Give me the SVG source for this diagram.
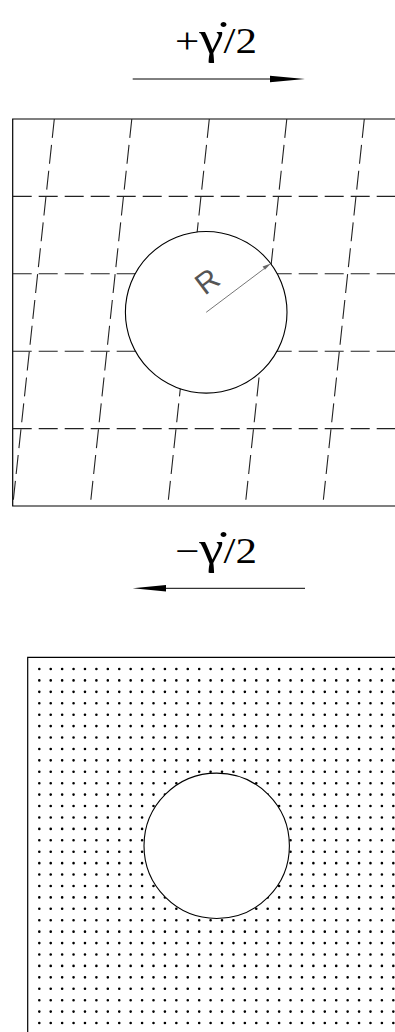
<svg xmlns="http://www.w3.org/2000/svg" width="395" height="1032" viewBox="0 0 395 1032">
<style>
.frame{fill:none;stroke:#000;stroke-width:1.2}
.grid{fill:none;stroke:#222;stroke-width:1.1;stroke-dasharray:19 7}
.circ{fill:#fff;stroke:#000;stroke-width:1.1}
.lbl{font-family:"Liberation Serif","Times New Roman",serif;font-size:36px;fill:#000}
.g{font-size:46px}
.dots{fill:none;stroke:#000;stroke-width:2.6;stroke-linecap:round;stroke-dasharray:0 11.42}
</style>
<rect width="395" height="1032" fill="#fff"/>
<g id="top-label">
<text class="lbl" x="175" y="53.3" textLength="82" lengthAdjust="spacingAndGlyphs">+<tspan class="g">γ̇</tspan>/2</text>
</g>
<g id="bottom-label">
<text class="lbl" x="175" y="563.3" textLength="82" lengthAdjust="spacingAndGlyphs">−<tspan class="g">γ̇</tspan>/2</text>
</g>
<g id="top-panel">
<path class="frame" d="M395 119H12.7V506H395"/>
<g class="grid">
<path d="M12.7 196.4H395M12.7 273.8H395M12.7 351.2H395M12.7 428.6H395"/>
<path d="M54.3 119L12.7 506M131.8 119L90.2 506M209.3 119L167.7 506M286.8 119L245.2 506M364.3 119L322.7 506"/>
</g>
<circle class="circ" cx="206.2" cy="312.3" r="80.8"/>
<line x1="206.2" y1="312.3" x2="264" y2="268.8" stroke="#666" stroke-width="0.9"/>
<polygon points="270.9,263.6 262.6,266.6 264.9,269.7" fill="#666"/>
<g transform="translate(207 281) rotate(-37)">
<text x="0" y="10.5" text-anchor="middle" font-family="Liberation Sans, Arial, sans-serif" font-size="30" fill="#555">R</text>
</g>
</g>
<g id="connectors">
<line x1="132.7" y1="79" x2="272" y2="79" stroke="#000" stroke-width="1"/>
<polygon points="305,79 270,75.7 270,82.3" fill="#000"/>
<line x1="166" y1="588.3" x2="305" y2="588.3" stroke="#000" stroke-width="1"/>
<polygon points="132.7,588.3 166,585 166,591.6" fill="#000"/>
</g>
<g id="bottom-panel">
<path class="frame" d="M395 657.3H27.7V1032"/>
<path class="dots" d="M39.3 669H400M39.3 680.42H400M39.3 691.84H400M39.3 703.26H400M39.3 714.68H400M39.3 726.1H400M39.3 737.52H400M39.3 748.94H400M39.3 760.36H400M39.3 771.78H400M39.3 783.2H400M39.3 794.62H400M39.3 806.04H400M39.3 817.46H400M39.3 828.88H400M39.3 840.3H400M39.3 851.72H400M39.3 863.14H400M39.3 874.56H400M39.3 885.98H400M39.3 897.4H400M39.3 908.82H400M39.3 920.24H400M39.3 931.66H400M39.3 943.08H400M39.3 954.5H400M39.3 965.92H400M39.3 977.34H400M39.3 988.76H400M39.3 1000.18H400M39.3 1011.6H400M39.3 1023.02H400"/>
<circle class="circ" cx="216.7" cy="845.8" r="72.7"/>
</g>
</svg>
